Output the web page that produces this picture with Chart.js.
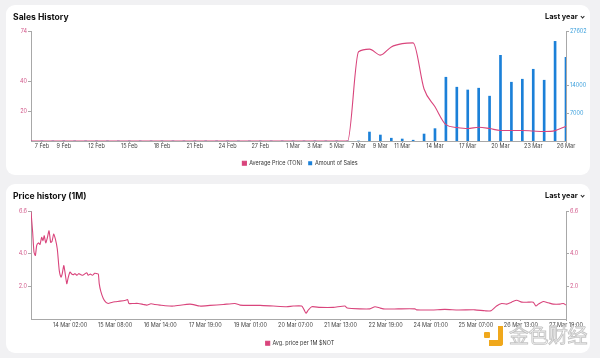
<!DOCTYPE html>
<html><head><meta charset="utf-8">
<script src="https://cdn.jsdelivr.net/npm/chart.js@4"></script>
<style>
html,body{margin:0;padding:0;}
body{width:600px;height:358px;background:#f1f1f3;position:relative;overflow:hidden;font-family:Inter,"Noto Sans",sans-serif;}
.card{position:absolute;left:6px;width:584px;background:#fff;border-radius:9px;}
.title{position:absolute;left:13px;font-weight:700;font-size:8.6px;line-height:11px;color:#111;z-index:3;}
.range{position:absolute;left:545px;font-weight:700;font-size:7.3px;line-height:10px;color:#111;z-index:3;}
.chev{position:absolute;width:2.2px;height:2.2px;border-right:1px solid #222;border-bottom:1px solid #222;transform:rotate(45deg);z-index:3;}
.wrap{position:absolute;left:0;width:600px;height:176px;z-index:2;}
.wm-logo{position:absolute;z-index:4;}
.wm-text{position:absolute;left:509px;top:322px;font-family:"Noto Sans CJK SC";font-size:20px;line-height:26px;color:#fff;-webkit-text-stroke:0.9px #c4c4c4;z-index:4;letter-spacing:-0.5px;}
</style></head>
<body>
<div class="card" style="top:5px;height:170px"></div>
<div class="card" style="top:184px;height:169px"></div>
<div class="title" style="top:12px">Sales History</div>
<div class="range" style="top:12px">Last year</div>
<div class="chev" style="left:581px;top:14.5px"></div>
<div class="title" style="top:190.5px">Price history (1M)</div>
<div class="range" style="top:191px">Last year</div>
<div class="chev" style="left:581px;top:193.5px"></div>
<div class="wrap" style="top:0"><canvas id="c1"></canvas></div>
<div class="wrap" style="top:180px"><canvas id="c2"></canvas></div>
<div class="wm-logo" style="left:489px;top:326px;width:9px;height:14px;border-right:5px solid #f0a81c;border-bottom:6px solid #f0a81c;border-bottom-right-radius:3px;"></div>
<div class="wm-logo" style="left:484px;top:332px;width:6px;height:6px;background:#f0a81c;border-radius:1px;"></div>
<div class="wm-text">金色财经</div>
<script>
const dayLabels = ['6 Feb','7 Feb','8 Feb','9 Feb','10 Feb','11 Feb','12 Feb','13 Feb','14 Feb','15 Feb','16 Feb','17 Feb','18 Feb','19 Feb','20 Feb','21 Feb','22 Feb','23 Feb','24 Feb','25 Feb','26 Feb','27 Feb','28 Feb','29 Feb',
'1 Mar','2 Mar','3 Mar','4 Mar','5 Mar','6 Mar','7 Mar','8 Mar','9 Mar','10 Mar','11 Mar','12 Mar','13 Mar','14 Mar','15 Mar','16 Mar','17 Mar','18 Mar','19 Mar','20 Mar','21 Mar','22 Mar','23 Mar','24 Mar','25 Mar','26 Mar'];
const shownDayLabels = ['7 Feb','9 Feb','12 Feb','15 Feb','18 Feb','21 Feb','24 Feb','27 Feb','1 Mar','3 Mar','5 Mar','7 Mar','9 Mar','11 Mar','14 Mar','17 Mar','20 Mar','23 Mar','26 Mar'];
const avgPriceTON = [0,0,0,0,0,0,0,0,0,0,0,0,0,0,0,0,0,0,0,0,0,0,0,0,0,0,0,0,0,0,
  60,61.8,57.8,63.3,65.5,66,35,23,11,9.1,8.4,9.3,8.4,7.1,7.1,7.1,6.7,6.4,7,10];
const amountOfSales = [0,0,0,0,0,0,0,0,0,0,0,0,0,0,0,0,0,0,0,0,0,0,0,0,0,0,0,0,0,0,0,
  2250,1500,700,500,200,1750,3100,16000,13500,12800,13250,11250,21500,14750,15500,18000,15250,25000,21000];
const priceTicksTON = [20,40,74];
const salesTicks = [7000,14000,27602];

// hours since 13 Mar 00:00
const notTimes = [0,1.1,2,2.9,3.8,4.9,6,7.1,8,8.8,9.8,10.8,12,13.1,14,15.1,16.2,17.5,18.8,20,
  20.8,21.8,22.6,23.8,24.6,25.9,27.1,28.1,29.3,30.6,31.7,33.1,34.4,35.7,37.1,38.1,39.5,40.8,42.4,43.9,
  44.8,45.4,46.4,48.1,49.9,51.4,53.7,55.9,59.2,63,64.3,65.2,68.1,71.4,74.7,77,79.8,82.5,85.8,89.2,
  94.7,105.8,112.4,119.1,128,135.7,139.1,145.7,152.4,161.2,170.1,174.5,180.1,181.6,183,184.5,186.8,192.3,201.1,208.9,
  210.4,218.9,225.5,228.9,232.2,235.5,244.4,255.5,256.6,266.6,275.4,284.3,295.4,302.1,306.1,309.8,313.2,316.5,319.8,323.2,
  326.5,330.9,334.2,336,337.6,340.9,344.2,347.5,352,354.2,356];
const notPrice = [6.55,5.3,4.08,3.88,4.5,4.65,4.56,4.99,4.79,5.09,4.65,4.93,5.39,4.68,4.75,5.19,4.89,4.28,2.97,2.56,
  2.77,3.27,2.87,2.16,2.47,2.87,2.75,2.71,2.77,2.67,2.77,2.71,2.67,2.75,2.83,2.67,2.75,2.67,2.79,2.77,
  2.75,2.16,1.7,1.25,1.01,0.95,1.01,1.05,1.09,1.15,1.19,0.95,0.95,0.95,0.89,0.85,0.93,0.89,0.85,0.81,
  0.79,0.91,0.79,0.83,0.89,0.95,0.85,0.83,0.83,0.79,0.75,0.79,0.79,0.59,0.35,0.55,0.75,0.71,0.71,0.79,
  0.67,0.62,0.62,0.75,0.67,0.61,0.62,0.62,0.56,0.55,0.59,0.55,0.56,0.5,0.5,0.79,0.95,0.91,1.03,1.15,
  1.03,1.03,1.03,0.79,0.91,1.07,0.99,0.91,0.91,0.95,0.85];
const timeTicks = [26,56,86,116,146,176,206,236,266,296,326,356];
const timeTickLabels = ['14 Mar 02:00','15 Mar 08:00','16 Mar 14:00','17 Mar 19:00','19 Mar 01:00','20 Mar 07:00','21 Mar 13:00','22 Mar 19:00','24 Mar 01:00','25 Mar 07:00','26 Mar 13:00','27 Mar 19:00'];
const notPriceTicks = [2,4,6.6];

const PINK = '#d9457c';
const PINK_TXT = '#d2588a';
const BLUE = '#1b80d8';
const BLUE_TXT = '#3a9fdc';
const AXIS = '#a8a8a8';
Chart.defaults.font.family = 'Inter';
Chart.defaults.font.size = 5.5;

const yAxis = (pos, min, max, ticks, color, width, fmt) => ({
  position: pos, min, max,
  afterBuildTicks(s){ s.ticks = ticks.map(v => ({value: v})); },
  afterFit(s){ s.width = width; },
  grid: {drawOnChartArea:false, tickLength:3, color:AXIS},
  border: {color:AXIS},
  ticks: {color, padding:1, font:{size:5.5}, callback: fmt}
});

new Chart(document.getElementById('c1'), {
  data: {
    labels: dayLabels,
    datasets: [
      {type:'line', label:'Average Price (TON)', data:avgPriceTON, yAxisID:'yP', borderColor:PINK, backgroundColor:PINK, borderWidth:1.1, pointRadius:0, cubicInterpolationMode:'monotone', order:0},
      {type:'bar', label:'Amount of Sales', data:amountOfSales, yAxisID:'yS', backgroundColor:BLUE, borderColor:BLUE, barThickness:2, order:1}
    ]
  },
  options: {
    responsive:true, maintainAspectRatio:false, animation:false,
    layout:{padding:{top:31,left:0,right:0,bottom:0}},
    plugins:{
      legend:{position:'bottom', labels:{boxWidth:4, boxHeight:4, padding:5.5, color:'#333', font:{size:5.5}}},
      tooltip:{enabled:false}
    },
    scales:{
      x:{type:'category', offset:false,
        afterFit(s){ s.height = 14; },
        grid:{drawOnChartArea:false, offset:false, tickLength:2, color:AXIS},
        border:{color:AXIS},
        ticks:{autoSkip:false, maxRotation:0, padding:0.5, color:'#444', font:{size:5.5},
          callback(v){ const l = this.getLabelForValue(v); return shownDayLabels.includes(l) ? l : null; }}
      },
      yP: yAxis('left', 0, 74, priceTicksTON, PINK_TXT, 31, v => String(v)),
      yS: yAxis('right', 0, 27602, salesTicks, BLUE_TXT, 34, v => String(v))
    }
  }
});

new Chart(document.getElementById('c2'), {
  type:'line',
  data: {
    datasets: [
      {label:'Avg. price per 1M $NOT', data: notTimes.map((t,i) => ({x:t, y:notPrice[i]})), yAxisID:'yL', borderColor:PINK, backgroundColor:PINK, borderWidth:1.1, pointRadius:0, tension:0.2}
    ]
  },
  options: {
    responsive:true, maintainAspectRatio:false, animation:false,
    layout:{padding:{top:31,left:0,right:0,bottom:0}},
    plugins:{
      legend:{position:'bottom', labels:{boxWidth:4, boxHeight:4, padding:5.5, color:'#333', font:{size:5.5}}},
      tooltip:{enabled:false}
    },
    scales:{
      x:{type:'linear', min:0, max:356,
        afterBuildTicks(s){ s.ticks = timeTicks.map(v => ({value:v})); },
        afterFit(s){ s.height = 16; },
        grid:{drawOnChartArea:false, tickLength:2, color:AXIS},
        border:{color:AXIS},
        ticks:{autoSkip:false, maxRotation:0, padding:1.5, color:'#444', font:{size:5.5},
          callback(v){ const i = timeTicks.indexOf(v); return i >= 0 ? timeTickLabels[i] : ''; }}
      },
      yL: yAxis('left', 0, 6.6, notPriceTicks, PINK_TXT, 31, v => Number(v).toFixed(1)),
      yR: yAxis('right', 0, 6.6, notPriceTicks, PINK_TXT, 34, v => Number(v).toFixed(1))
    }
  }
});
</script>
</body></html>
